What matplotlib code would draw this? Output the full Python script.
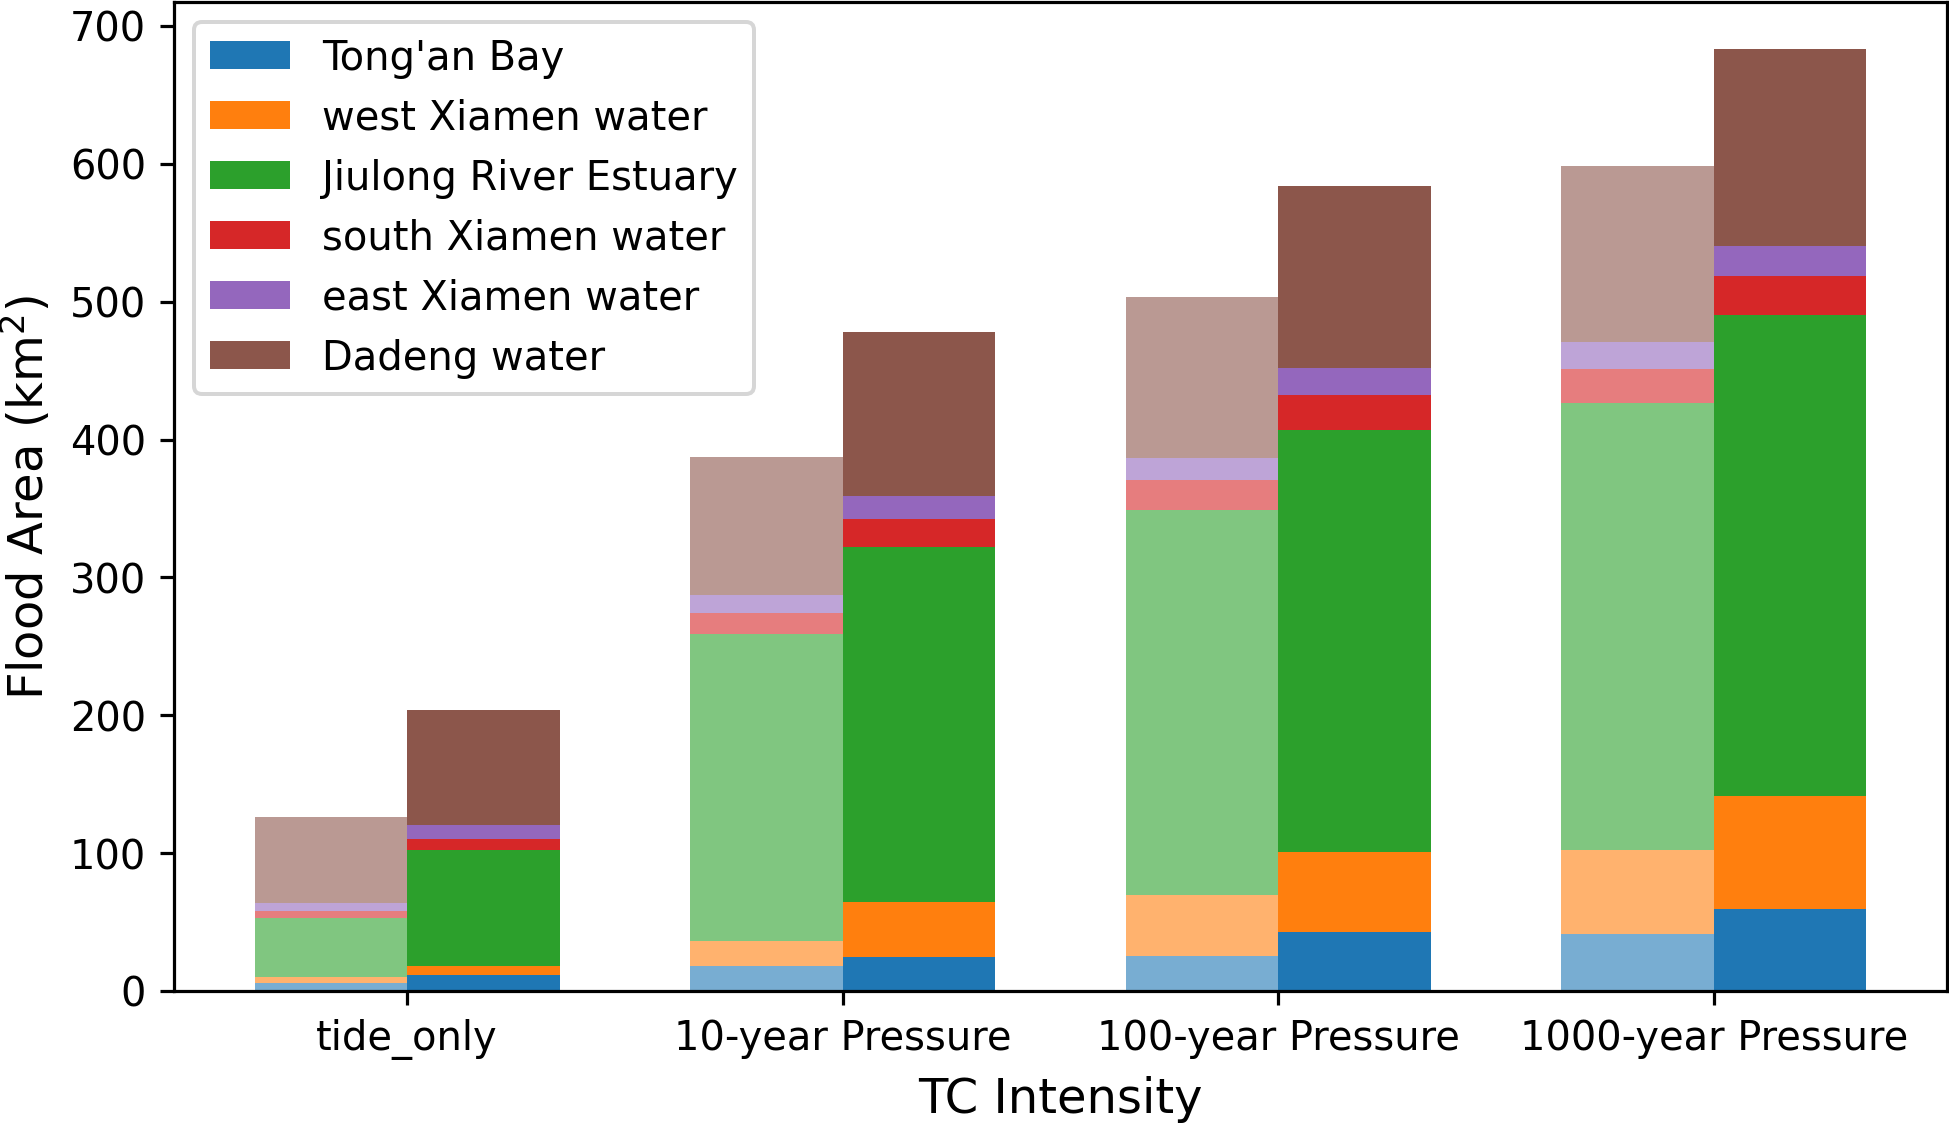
import numpy as np
import matplotlib
matplotlib.use("Agg")
import matplotlib.pyplot as plt

# TC intensity scenarios
categories = ["tide_only", "10-year Pressure", "100-year Pressure", "1000-year Pressure"]
regions = ["Tong'an Bay", "west Xiamen water", "Jiulong River Estuary",
           "south Xiamen water", "east Xiamen water", "Dadeng water"]

# flood area per region (km2), left (light) bar of each pair
light_tongan = [6.0, 18.2, 25.7, 41.3]
light_west = [4.4, 17.9, 43.8, 60.6]
light_jiulong = [42.2, 223.2, 279.6, 324.5]
light_south = [5.1, 14.7, 21.5, 25.1]
light_east = [6.3, 13.6, 16.1, 19.3]
light_dadeng = [62.3, 99.9, 116.7, 127.5]

# right (dark) bar of each pair
dark_tongan = [11.6, 24.8, 43.0, 59.2]
dark_west = [6.5, 39.9, 58.0, 82.2]
dark_jiulong = [83.8, 257.7, 306.1, 348.7]
dark_south = [8.5, 19.8, 24.9, 28.8]
dark_east = [10.3, 17.0, 20.0, 21.5]
dark_dadeng = [83.1, 118.8, 131.7, 142.7]

light = [light_tongan, light_west, light_jiulong, light_south, light_east, light_dadeng]
dark = [dark_tongan, dark_west, dark_jiulong, dark_south, dark_east, dark_dadeng]
colors = ["tab:blue", "tab:orange", "tab:green", "tab:red", "tab:purple", "tab:brown"]

DPI = 288
fig = plt.figure(figsize=(1949.4 / DPI, 1123.4 / DPI), dpi=DPI)
ax = fig.add_axes([174 / 1949, 132 / 1123, (1946.5 - 174) / 1949, (1120.3 - 132) / 1123])

x = np.arange(len(categories))
width = 0.35

bottom = np.zeros(len(categories))
for vals, c in zip(light, colors):
    ax.bar(x - width / 2, vals, width, bottom=bottom, color=c, alpha=0.6)
    bottom += np.array(vals)

bottom = np.zeros(len(categories))
for vals, c, name in zip(dark, colors, regions):
    ax.bar(x + width / 2, vals, width, bottom=bottom, color=c, label=name)
    bottom += np.array(vals)

ax.set_xticks(x)
ax.set_xticklabels(categories, fontsize=10)
ax.tick_params(axis="y", labelsize=10)
ax.set_xlabel("TC Intensity", fontsize=12)
ax.set_ylabel(r"Flood Area (km$^2$)", fontsize=12)
ax.legend(loc="upper left", fontsize=10)

fig.savefig("out.png", dpi=DPI)
